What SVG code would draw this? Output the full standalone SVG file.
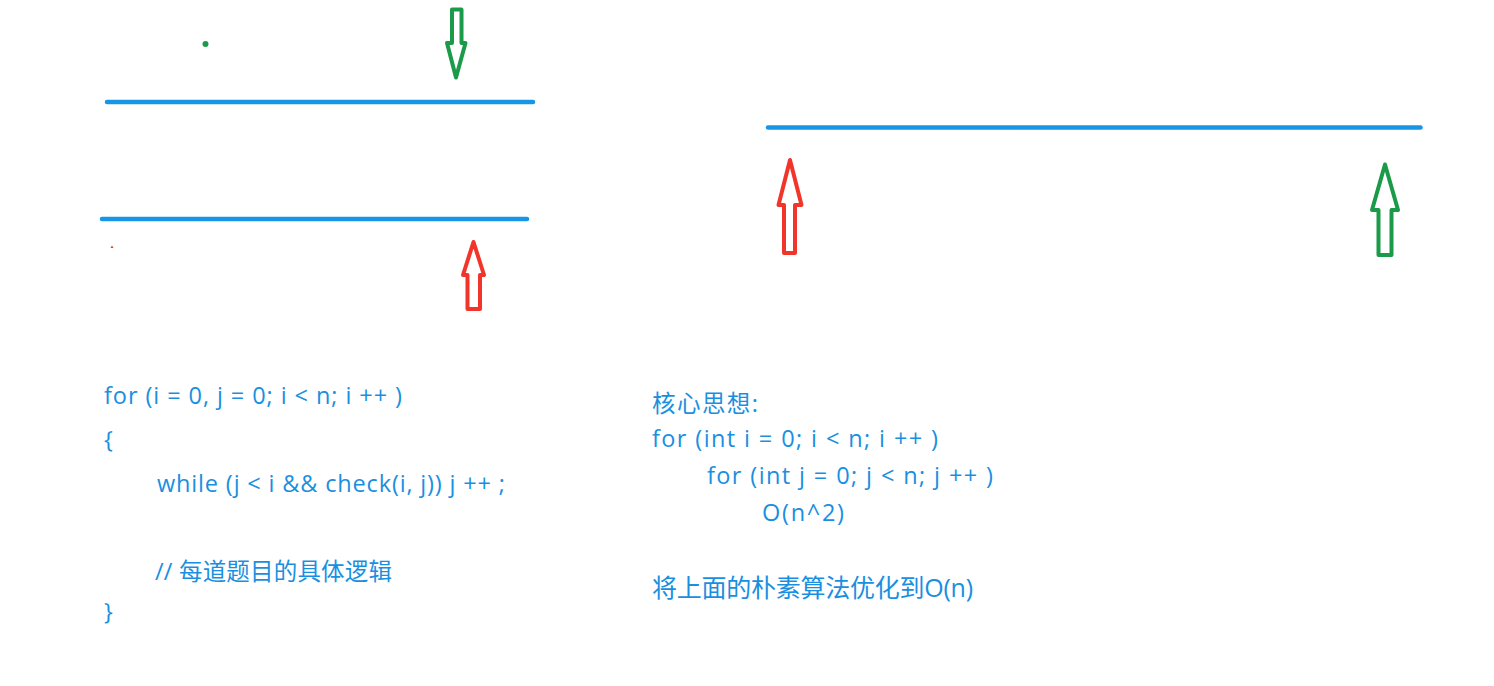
<svg xmlns="http://www.w3.org/2000/svg" width="1494" height="686" viewBox="0 0 1494 686">
<style>
.bar{stroke:#1896e6;stroke-width:4.5;stroke-linecap:round;fill:none}
.ar{fill:#fff;stroke-width:4;stroke-linejoin:round}
.red{stroke:#f2352a}
.grn{stroke:#1b9b4a}
.code{font-family:"Open Sans","Noto Sans CJK SC",sans-serif;font-size:23.5px;fill:#1a8fe0}
.cjk{font-size:25px}
</style>
<rect width="1494" height="686" fill="#fff"/>
<g id="left-diagram">
  <g id="left-top-line"><line class="bar" x1="107" y1="102" x2="533" y2="102"/></g>
  <g id="left-bottom-line"><line class="bar" x1="102" y1="219" x2="527" y2="219"/></g>
  <g id="green-dot"><circle cx="205.5" cy="44" r="3" fill="#1b9b4a"/></g>
  <g id="red-mark"><path d="M110.5 248 L112 245.5 L113.5 248 Z" fill="#f2352a"/></g>
  <g id="green-down-arrow"><polygon class="ar grn" points="452,9.5 461.5,9.5 461.5,43 465.5,43 456,77.5 447,43 452,43"/></g>
  <g id="red-up-arrow"><polygon class="ar red" points="473.5,242 484,275 480,275 480,309 467.5,309 467.5,275 463,275"/></g>
</g>
<g id="right-diagram">
  <g id="right-line"><line class="bar" x1="768" y1="127.5" x2="1420.5" y2="127.5"/></g>
  <g id="red-up-arrow-right"><polygon class="ar red" points="790,160 801.5,205 795,205 795,253 784,253 784,205 778.5,205"/></g>
  <g id="green-up-arrow-right"><polygon class="ar grn" points="1385,164.5 1398,210 1391.5,210 1391.5,255 1378.5,255 1378.5,210 1372,210"/></g>
</g>
<g id="left-code" class="code">
  <text x="104" y="404" textLength="298" lengthAdjust="spacing">for (i = 0, j = 0; i &lt; n; i ++ )</text>
  <text x="104" y="448">{</text>
  <text x="157" y="492" textLength="348" lengthAdjust="spacing">while (j &lt; i &amp;&amp; check(i, j)) j ++ ;</text>
  <text x="155" y="580" textLength="237" lengthAdjust="spacing">// 每道题目的具体逻辑</text>
  <text x="104" y="620">}</text>
</g>
<g id="right-notes" class="code">
  <text x="652" y="412" textLength="106" lengthAdjust="spacing">核心思想:</text>
  <text x="652" y="447" textLength="286" lengthAdjust="spacing">for (int i = 0; i &lt; n; i ++ )</text>
  <text x="707" y="484" textLength="286" lengthAdjust="spacing">for (int j = 0; j &lt; n; j ++ )</text>
  <text x="762" y="521" textLength="82" lengthAdjust="spacing">O(n^2)</text>
  <text class="cjk" x="652" y="597" textLength="321" lengthAdjust="spacing">将上面的朴素算法优化到O(n)</text>
</g>
</svg>
